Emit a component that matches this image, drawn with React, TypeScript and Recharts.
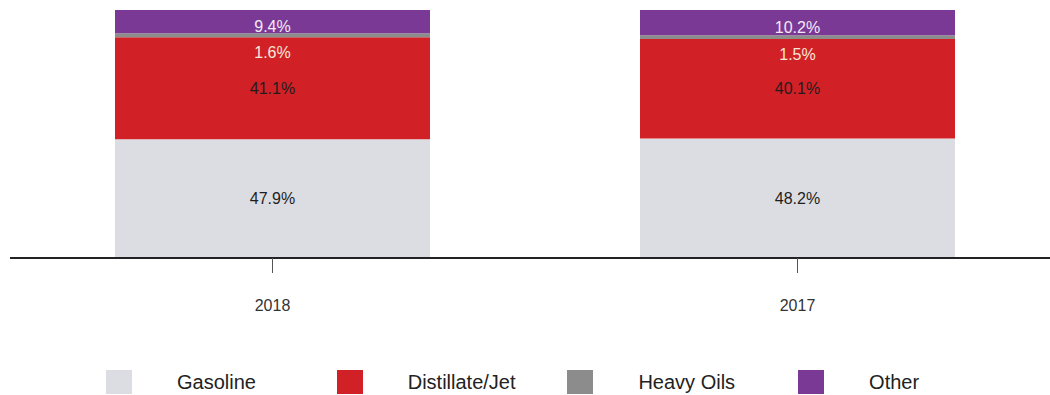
import { BarChart, Bar, XAxis, YAxis, LabelList } from "recharts";

const years = ["2018", "2017"];
const gasoline = [47.9, 48.2];
const distillate = [41.1, 40.1];
const heavyOils = [1.6, 1.5];
const other = [9.4, 10.2];

const seriesNames = ["Gasoline", "Distillate/Jet", "Heavy Oils", "Other"];
const seriesKeys = ["gasoline", "distillate", "heavy", "other"];
const seriesColors = ["#dcdde2", "#d22027", "#8c8c8c", "#7b3996"];

const data = years.map((year, i) => ({
  year,
  gasoline: gasoline[i],
  distillate: distillate[i],
  heavy: heavyOils[i],
  other: other[i],
}));

const FONT = "'Liberation Sans', Arial, sans-serif";

const pct = (v: any) => `${Number(v).toFixed(1)}%`;

function makeLabel(fill: string, place: "center" | "below" | "low") {
  return (props: any) => {
    const { x, y, width, height, value } = props;
    let cy = y + height / 2;
    if (place === "below") cy = y + height + 15;
    if (place === "low") cy = y + height / 2 + 5;
    return (
      <text
        x={x + width / 2}
        y={cy}
        textAnchor="middle"
        dominantBaseline="central"
        fontSize={16}
        fontFamily={FONT}
        fill={fill}
      >
        {pct(value)}
      </text>
    );
  };
}

const labelFor: Record<string, any> = {
  gasoline: makeLabel("#1e1e1e", "center"),
  distillate: makeLabel("#1e1e1e", "center"),
  heavy: makeLabel("#f8e8d8", "below"),
  other: makeLabel("#f2eaf6", "low"),
};

export default function App() {
  return (
    <div
      style={{
        position: "fixed",
        left: 0,
        top: 0,
        width: 1050,
        height: 395,
        overflow: "hidden",
        background: "#ffffff",
        fontFamily: FONT,
      }}
    >
      <BarChart
        width={1060}
        height={330}
        data={data}
        margin={{ top: 10, right: 0, left: 10, bottom: 0 }}
        barCategoryGap="20%"
      >
        <YAxis hide domain={[0, 100]} />
        <XAxis
          dataKey="year"
          height={72}
          axisLine={{ stroke: "#222222", strokeWidth: 2 }}
          tickLine={{ stroke: "#555555" }}
          tickSize={15}
          tickMargin={27}
          tick={{ fontSize: 16, fill: "#333333", fontFamily: FONT }}
        />
        {seriesKeys.map((key, i) => (
          <Bar
            key={key}
            dataKey={key}
            stackId="a"
            fill={seriesColors[i]}
            isAnimationActive={false}
          >
            <LabelList dataKey={key} content={labelFor[key]} />
          </Bar>
        ))}
      </BarChart>
      {seriesNames.map((name, i) => (
        <div
          key={name}
          style={{
            position: "absolute",
            left: 106 + i * 230.7,
            top: 370,
            height: 24,
            display: "flex",
            alignItems: "center",
          }}
        >
          <div style={{ width: 26, height: 24, background: seriesColors[i] }} />
          <span
            style={{
              marginLeft: 45,
              fontSize: 20,
              lineHeight: "20px",
              color: "#222222",
              whiteSpace: "nowrap",
            }}
          >
            {name}
          </span>
        </div>
      ))}
    </div>
  );
}
